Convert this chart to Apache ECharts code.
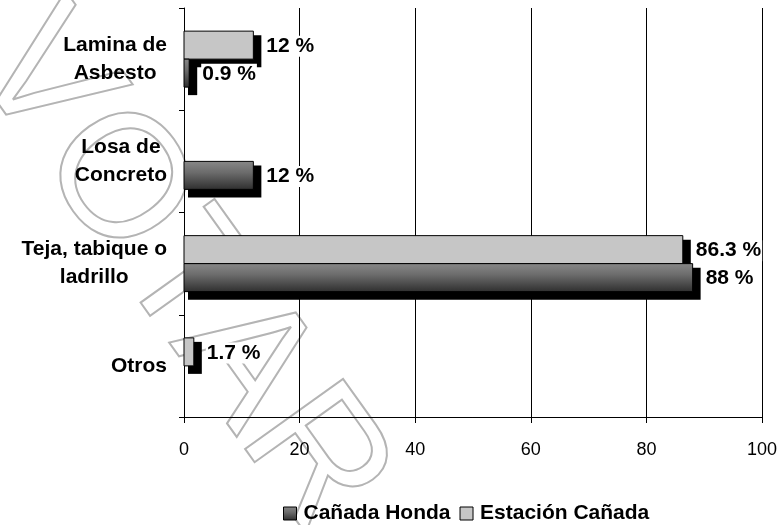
<!DOCTYPE html>
<html>
<head>
<meta charset="utf-8">
<script src="https://cdn.jsdelivr.net/npm/echarts@6/dist/echarts.min.js"></script>
<style>html,body{margin:0;padding:0;background:#fff}#c{width:780px;height:525px}</style>
</head>
<body>
<div id="c"></div>
<script>
var categories = ['Lamina de\nAsbesto', 'Losa de\nConcreto', 'Teja, tabique o\nladrillo', 'Otros'];
var estacionCanada = [12, null, 86.3, 1.7];
var canadaHonda = [0.9, 12, 88, null];
var xTicks = [0, 20, 40, 60, 80, 100];
var legendNames = ['Cañada Honda', 'Estación Cañada'];

var chart = echarts.init(document.getElementById('c'), null, {renderer: 'canvas'});
var FONT = 'Liberation Sans, Arial, sans-serif';
var BAR_H = 28;

var darkFill = new echarts.graphic.LinearGradient(0, 0, 0, 1, [
  {offset: 0, color: '#888888'}, {offset: 0.4, color: '#6c6c6c'}, {offset: 1, color: '#2e2e2e'}
]);
var lightFill = '#c6c6c6';

function toPairs(arr) {
  var out = [];
  arr.forEach(function (v, i) { if (v !== null) out.push([i, v]); });
  return out;
}

function makeRenderer(slot, fill) {
  return function (params, api) {
    var cat = api.value(0), val = api.value(1);
    var c0 = api.coord([0, cat]);
    var c1 = api.coord([val, cat]);
    var x = c0[0], w = c1[0] - c0[0];
    var y = c0[1] - BAR_H + slot * BAR_H;
    return {
      type: 'group',
      children: [
        {type: 'rect', shape: {x: x + 4, y: y + 4, width: w + 4, height: BAR_H + 4}, style: {fill: '#000'}},
        {type: 'rect', shape: {x: x, y: y, width: w, height: BAR_H}, style: {fill: fill, stroke: '#000', lineWidth: 1}},
        {type: 'text', x: c1[0] + 12, y: y + BAR_H / 2 + 1, z2: 10,
          style: {text: val + ' %', fill: '#000', fontFamily: FONT, fontWeight: 'bold', fontSize: 21,
            align: 'left', verticalAlign: 'middle', backgroundColor: '#fff', padding: [0, 1, 0, 1]}}
      ]
    };
  };
}

chart.setOption({
  animation: false,
  backgroundColor: '#fff',
  grid: {left: 184, right: 18, top: 8, bottom: 108, containLabel: false},
  xAxis: {
    type: 'value', min: xTicks[0], max: xTicks[xTicks.length - 1], interval: 20,
    axisLine: {show: true, lineStyle: {color: '#000', width: 1}},
    axisTick: {show: true, length: 6, lineStyle: {color: '#000'}},
    axisLabel: {color: '#000', fontFamily: FONT, fontSize: 18, margin: 24},
    splitLine: {show: true, lineStyle: {color: '#000', width: 1}}
  },
  yAxis: {
    type: 'category', inverse: true, data: categories,
    axisLine: {show: true, lineStyle: {color: '#000', width: 1}},
    axisTick: {show: true, length: 5, lineStyle: {color: '#000'}},
    axisLabel: {
      margin: 17, align: 'right',
      formatter: function (v) {
        return v.split('\n').map(function (s) { return '{c|' + s + '}'; }).join('\n');
      },
      rich: {c: {align: 'center', color: '#000', fontFamily: FONT, fontWeight: 'bold', fontSize: 21, lineHeight: 28}}
    }
  },
  legend: {
    data: legendNames.map(function (n) { return {name: n, icon: 'rect'}; }),
    bottom: 1, left: 283, padding: 0, itemWidth: 13, itemHeight: 13, itemGap: 9,
    textStyle: {color: '#000', fontFamily: FONT, fontWeight: 'bold', fontSize: 21, padding: [0, 0, 0, 2]},
    itemStyle: {borderColor: '#000', borderWidth: 1}
  },
  series: [
    {
      name: 'Estación Cañada', type: 'custom', data: toPairs(estacionCanada),
      encode: {x: 1, y: 0}, z: 3,
      itemStyle: {color: lightFill},
      renderItem: makeRenderer(0, lightFill)
    },
    {
      name: 'Cañada Honda', type: 'custom', data: toPairs(canadaHonda),
      encode: {x: 1, y: 0}, z: 3,
      itemStyle: {color: darkFill},
      renderItem: makeRenderer(1, darkFill)
    }
  ],
  graphic: [{
    type: 'text', silent: true, z: -10, zlevel: 0,
    x: 178, y: 272, rotation: -0.95,
    style: {
      text: 'VOTAR', fontFamily: FONT, fontSize: 175, fill: 'rgba(0,0,0,0)',
      stroke: '#b4b4b4', lineWidth: 2, align: 'center', verticalAlign: 'middle'
    }
  }]
});
</script>
</body>
</html>
